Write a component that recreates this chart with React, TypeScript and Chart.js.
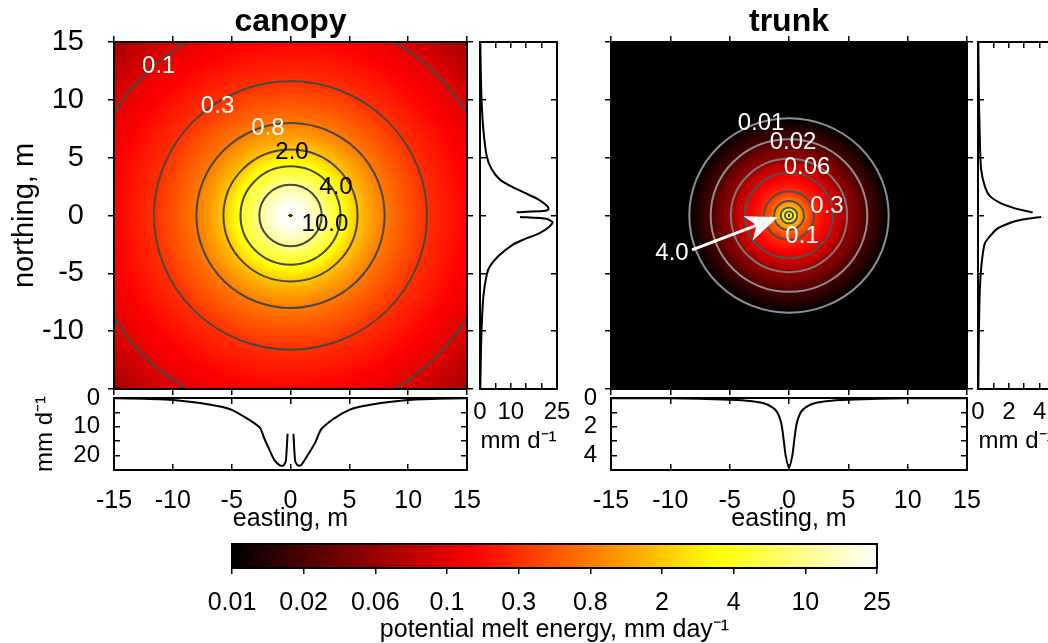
import React, { useEffect, useRef } from 'react';
import { Chart, registerables } from 'chart.js';

Chart.register(...registerables);

const FONT = "'Liberation Sans', Arial, Helvetica, sans-serif";
Chart.defaults.font.family = FONT;
Chart.defaults.color = '#000';

// ---------------- data ----------------
// colour scale (potential melt energy, mm/day)
const colorbarTicks = [0.01, 0.02, 0.06, 0.1, 0.3, 0.8, 2, 4, 10, 25];
const colorbarTickLabels = ['0.01', '0.02', '0.06', '0.1', '0.3', '0.8', '2', '4', '10', '25'];

// radial melt field around the tree (distance from stem, m -> mm/day)
const canopyRadius = [0.17, 0.35, 0.6, 0.9, 1.3, 1.8, 2.2, 2.65, 3.4, 4.25, 5.0, 5.7, 6.8, 8.0, 9.8, 11.6, 14.5, 17.4, 21.3];
const canopyMelt = [16, 22, 23.8, 23, 20.5, 16, 13, 10, 6.2, 4.0, 2.8, 2.0, 1.25, 0.8, 0.48, 0.3, 0.17, 0.1, 0.065];
const trunkRadius = [0.12, 0.34, 0.5, 0.7, 1.0, 1.26, 1.6, 2.1, 2.9, 3.7, 4.9, 6.6, 8.4, 11, 15, 21.3];
const trunkMelt = [4.8, 4.0, 2.9, 2.0, 1.2, 0.8, 0.5, 0.3, 0.17, 0.1, 0.06, 0.02, 0.01, 0.006, 0.004, 0.003];

// east-west transects (bottom panels)
const canopyEasting = [-15, -12.5, -10, -7.7, -6.2, -5, -3.7, -2.6, -2.25, -1.8, -1.4, -0.9, -0.62, -0.4, -0.25, 0, 0.25, 0.4, 0.65, 0.93, 1.5, 2.1, 2.6, 3.7, 5, 6.2, 7.7, 10, 12.5, 15];
const canopyEastMelt = [0.1, 0.3, 0.7, 1.75, 2.8, 4.1, 7.1, 10.3, 13.8, 17.9, 21.4, 23.4, 23.5, 22, 12.4, null, 12.4, 22, 23.5, 23.2, 19.6, 15.5, 10.9, 7.1, 4.1, 2.8, 1.75, 0.7, 0.3, 0.1];
const trunkEasting = [-15, -10, -7.6, -5, -3.3, -2.2, -1.4, -0.98, -0.7, -0.56, -0.42, -0.28, 0, 0.28, 0.42, 0.56, 0.7, 0.98, 1.4, 2.2, 3.3, 5, 7.6, 10, 15];
const trunkEastMelt = [0.01, 0.02, 0.05, 0.12, 0.2, 0.35, 0.65, 1.0, 1.6, 2.2, 3.1, 4.0, 4.85, 4.0, 3.1, 2.2, 1.6, 1.0, 0.65, 0.35, 0.2, 0.12, 0.05, 0.02, 0.01];

// north-south transects (side panels)
const canopyNorthing = [15, 12.5, 10, 7.4, 5.1, 4.0, 3.1, 2.5, 1.95, 1.4, 0.8, 0.52, 0.38, 0.29, 0.1, -0.12, -0.29, -0.58, -0.92, -1.5, -2.1, -2.5, -3.5, -4.4, -5.1, -7, -9.9, -12.5, -15];
const canopyNorthMelt = [0.1, 0.25, 0.5, 1.1, 2.2, 3.8, 6.5, 10.3, 14.6, 18.9, 21.9, 22.2, 20.5, 11.9, null, 13, 21.6, 23.6, 22.7, 19.5, 14, 10.8, 6, 3.2, 2.2, 1.1, 0.5, 0.25, 0.1];
const trunkNorthing = [15, 10, 8.3, 6.0, 4.0, 2.5, 1.67, 1.1, 0.66, 0.37, 0.26, 0.07, -0.12, -0.35, -0.63, -1.2, -2.4, -4.1, -6.1, -10, -15];
const trunkNorthMelt = [0.02, 0.06, 0.09, 0.13, 0.2, 0.45, 0.78, 1.43, 2.3, 3.2, 3.55, null, 4.1, 2.9, 2.1, 1.2, 0.45, 0.24, 0.13, 0.06, 0.02];

// contour label texts
const canopyContourText = ['0.1', '0.3', '0.8', '2.0', '4.0', '10.0'];
const trunkContourText = ['0.01', '0.02', '0.06', '0.3', '0.1', '4.0'];

// ---------------- annotation placement (data coords) ----------------
const canopyNote = {
  at: [[-11.2, 12.9], [-6.2, 9.47], [-1.91, 7.56], [0.13, 5.49], [3.87, 2.46], [2.93, -0.74]],
  colors: ['#fff', '#fff', '#fff', '#000', '#000', '#000'],
  text: canopyContourText,
  lineColor: (_level: number) => '#474747',
  arrow: null as null | number[],
};
const trunkNote = {
  at: [[-2.36, 8.0], [0.34, 6.35], [1.52, 4.19], [3.2, 0.82], [1.1, -1.77], [-9.86, -3.24]],
  colors: ['#fff', '#fff', '#fff', '#fff', '#fff', '#fff'],
  text: trunkContourText,
  lineColor: (level: number) => (level <= 0.02 ? '#8f8f8f' : level <= 0.06 ? '#7a7a7a' : '#505050'),
  arrow: [-8.17, -2.98, -0.93, -0.13] as null | number[],
};

// ---------------- helpers ----------------
function meltAt(radii: number[], melt: number[], r: number): number {
  if (r < radii[0]) return NaN;
  const n = radii.length;
  for (let i = 0; i < n - 1; i++) {
    if (r <= radii[i + 1]) {
      const f = (r - radii[i]) / (radii[i + 1] - radii[i]);
      return Math.exp(Math.log(melt[i]) + f * (Math.log(melt[i + 1]) - Math.log(melt[i])));
    }
  }
  return melt[n - 1];
}

function contourRadius(radii: number[], melt: number[], level: number): number | null {
  for (let i = melt.length - 1; i > 0; i--) {
    const a = melt[i], b = melt[i - 1];
    if (a <= level && b >= level) {
      const f = b === a ? 0 : Math.log(level / a) / Math.log(b / a);
      return radii[i] + (radii[i - 1] - radii[i]) * f;
    }
  }
  return null;
}

function colorPosition(v: number): number {
  const t = colorbarTicks;
  const n = t.length;
  if (v <= t[0]) return 0;
  if (v >= t[n - 1]) return 1;
  for (let i = 0; i < n - 1; i++) {
    if (v <= t[i + 1]) return (i + Math.log(v / t[i]) / Math.log(t[i + 1] / t[i])) / (n - 1);
  }
  return 1;
}

function hot(t: number): number[] {
  const c = (u: number) => Math.max(0, Math.min(1, u));
  return [c(t / 0.375), c((t - 0.375) / 0.375), c((t - 0.75) / 0.25)].map((u) => Math.round(u * 255));
}

const BLACK = '#000';
const frame = { display: true, color: BLACK, width: 2 };
const marks = (length: number) => ({
  display: true,
  drawOnChartArea: false,
  drawTicks: true,
  tickLength: length,
  color: BLACK,
  lineWidth: 1.5,
});
const fixed = (size: number) => (s: any) => {
  if (s.isHorizontal()) s.height = size;
  else s.width = size;
  s.paddingLeft = 0;
  s.paddingRight = 0;
  s.paddingTop = 0;
  s.paddingBottom = 0;
};
const baseOptions = (scales: any) => ({
  responsive: false,
  animation: false,
  devicePixelRatio: 1,
  events: [],
  layout: { padding: 0, autoPadding: false },
  plugins: { legend: { display: false }, tooltip: { enabled: false }, title: { display: false } },
  scales,
});

type Margins = { l: number; t: number; r: number; b: number };

function fieldPlugin(radii: number[], melt: number[], note: typeof canopyNote) {
  return {
    id: 'meltField',
    beforeDraw(chart: any) {
      const { ctx, chartArea: a, scales } = chart;
      const xs = scales.x;
      const ys = scales.y;
      const x0 = Math.round(a.left);
      const y0 = Math.round(a.top);
      const w = Math.round(a.right) - x0;
      const h = Math.round(a.bottom) - y0;
      const off = document.createElement('canvas');
      off.width = w;
      off.height = h;
      const octx = off.getContext('2d') as CanvasRenderingContext2D;
      const img = octx.createImageData(w, h);
      for (let j = 0; j < h; j++) {
        const yv = ys.getValueForPixel(y0 + j + 0.5);
        for (let i = 0; i < w; i++) {
          const xv = xs.getValueForPixel(x0 + i + 0.5);
          const v = meltAt(radii, melt, Math.hypot(xv, yv));
          const c = isNaN(v) ? [45, 45, 45] : hot(colorPosition(v));
          const k = (j * w + i) * 4;
          img.data[k] = c[0];
          img.data[k + 1] = c[1];
          img.data[k + 2] = c[2];
          img.data[k + 3] = 255;
        }
      }
      octx.putImageData(img, 0, 0);
      ctx.drawImage(off, x0, y0);

      ctx.save();
      ctx.beginPath();
      ctx.rect(a.left, a.top, a.right - a.left, a.bottom - a.top);
      ctx.clip();
      const cx = xs.getPixelForValue(0);
      const cy = ys.getPixelForValue(0);
      colorbarTicks.forEach((level) => {
        const r = contourRadius(radii, melt, level);
        if (r == null) return;
        const rx = xs.getPixelForValue(r) - cx;
        const ry = cy - ys.getPixelForValue(r);
        ctx.beginPath();
        ctx.ellipse(cx, cy, rx, ry, 0, 0, Math.PI * 2);
        ctx.strokeStyle = note.lineColor(level);
        ctx.lineWidth = 2;
        ctx.stroke();
      });

      if (note.arrow) {
        const sx = xs.getPixelForValue(note.arrow[0]);
        const sy = ys.getPixelForValue(note.arrow[1]);
        const ex = xs.getPixelForValue(note.arrow[2]);
        const ey = ys.getPixelForValue(note.arrow[3]);
        const L = Math.hypot(ex - sx, ey - sy);
        const ux = (ex - sx) / L;
        const uy = (ey - sy) / L;
        const px = -uy;
        const py = ux;
        const head = 32;
        const half = 13;
        ctx.strokeStyle = '#fff';
        ctx.lineWidth = 3;
        ctx.beginPath();
        ctx.moveTo(sx, sy);
        ctx.lineTo(ex - ux * head * 0.7, ey - uy * head * 0.7);
        ctx.stroke();
        ctx.fillStyle = '#fff';
        ctx.beginPath();
        ctx.moveTo(ex, ey);
        ctx.lineTo(ex - ux * head + px * half, ey - uy * head + py * half);
        ctx.lineTo(ex - ux * head * 0.72, ey - uy * head * 0.72);
        ctx.lineTo(ex - ux * head - px * half, ey - uy * head - py * half);
        ctx.closePath();
        ctx.fill();
      }

      ctx.font = `24px ${FONT}`;
      ctx.textAlign = 'center';
      ctx.textBaseline = 'middle';
      note.text.forEach((t, i) => {
        ctx.fillStyle = note.colors[i];
        ctx.fillText(t, xs.getPixelForValue(note.at[i][0]), ys.getPixelForValue(note.at[i][1]));
      });
      ctx.restore();
    },
  };
}

function fieldChart(title: string, radii: number[], melt: number[], note: typeof canopyNote, left: any, m: Margins) {
  return {
    type: 'scatter',
    data: { datasets: [] },
    options: baseOptions({
      x: { type: 'linear', position: 'bottom', min: -15, max: 15, ticks: { display: false, stepSize: 5 }, grid: marks(6), border: frame, afterFit: fixed(m.b) },
      xTop: {
        type: 'linear', axis: 'x', position: 'top', min: -15, max: 15,
        ticks: { display: false, stepSize: 5 }, grid: marks(6), border: frame,
        title: { display: true, text: title, color: BLACK, font: { size: 32, weight: 'bold' }, padding: { top: 3, bottom: 0 } },
        afterFit: fixed(m.t),
      },
      y: { type: 'linear', position: 'left', min: -15, max: 15, grid: marks(6), border: frame, afterFit: fixed(m.l), ...left },
      yRight: { type: 'linear', axis: 'y', position: 'right', min: -15, max: 15, ticks: { display: false, stepSize: 5 }, grid: marks(6), border: frame, afterFit: fixed(m.r) },
    }),
    plugins: [fieldPlugin(radii, melt, note)],
  };
}

function lineSet(points: { x: number | null; y: number | null }[]) {
  return { data: points, showLine: true, borderColor: BLACK, borderWidth: 2, pointRadius: 0, tension: 0.2, fill: false };
}

function sideChart(northing: number[], melt: (number | null)[], max: number, step: number, labelled: number[], m: Margins) {
  return {
    type: 'scatter',
    data: { datasets: [lineSet(northing.map((n, i) => ({ x: melt[i], y: n })))] },
    options: baseOptions({
      x: {
        type: 'linear', position: 'bottom', min: 0, max,
        ticks: { stepSize: step, font: { size: 24 }, padding: 15, autoSkip: false, maxRotation: 0, callback: (v: number) => (labelled.includes(v) ? String(v) : '') },
        grid: marks(-6), border: frame,
        title: { display: true, text: 'mm d⁻¹', color: BLACK, font: { size: 24 }, padding: { top: 0, bottom: 14 } },
        afterFit: fixed(m.b),
      },
      xTop: { type: 'linear', axis: 'x', position: 'top', min: 0, max, ticks: { display: false, stepSize: step }, grid: marks(-6), border: frame, afterFit: fixed(m.t) },
      y: { type: 'linear', position: 'left', min: -15, max: 15, ticks: { display: false, stepSize: 5 }, grid: marks(-6), border: frame, afterFit: fixed(m.l) },
      yRight: { type: 'linear', axis: 'y', position: 'right', min: -15, max: 15, ticks: { display: false, stepSize: 5 }, grid: marks(-6), border: frame, afterFit: fixed(m.r) },
    }),
  };
}

function bottomChart(easting: number[], melt: (number | null)[], max: number, step: number, labelled: number[], yTitle: string | null, m: Margins) {
  return {
    type: 'scatter',
    data: { datasets: [lineSet(easting.map((e, i) => ({ x: e, y: melt[i] })))] },
    options: baseOptions({
      x: {
        type: 'linear', position: 'bottom', min: -15, max: 15,
        ticks: { stepSize: 5, font: { size: 25 }, padding: 22, autoSkip: false, maxRotation: 0, callback: (v: number) => String(v) },
        grid: marks(-6), border: frame,
        title: { display: true, text: 'easting, m', color: BLACK, font: { size: 25 }, padding: { top: 0, bottom: 6 } },
        afterFit: fixed(m.b),
      },
      xTop: { type: 'linear', axis: 'x', position: 'top', min: -15, max: 15, ticks: { display: false, stepSize: 5 }, grid: marks(-6), border: frame, afterFit: fixed(m.t) },
      y: {
        type: 'linear', position: 'left', min: 0, max, reverse: true,
        ticks: { stepSize: step, font: { size: 24 }, padding: 20, autoSkip: false, callback: (v: number) => (labelled.includes(v) ? String(v) : '') },
        grid: marks(-6), border: frame,
        title: { display: !!yTitle, text: yTitle || '', color: BLACK, font: { size: 24 }, padding: { top: 31, bottom: 0 } },
        afterFit: fixed(m.l),
      },
      yRight: { type: 'linear', axis: 'y', position: 'right', min: 0, max, reverse: true, ticks: { display: false, stepSize: step }, grid: marks(-6), border: frame, afterFit: fixed(m.r) },
    }),
  };
}

const colorbarPlugin = {
  id: 'colorbar',
  beforeDraw(chart: any) {
    const { ctx, chartArea: a, scales } = chart;
    const xs = scales.x;
    const n = colorbarTicks.length - 1;
    for (let px = Math.floor(a.left); px < Math.ceil(a.right); px++) {
      const idx = xs.getValueForPixel(px + 0.5);
      const c = hot(Math.max(0, Math.min(1, idx / n)));
      ctx.fillStyle = `rgb(${c[0]},${c[1]},${c[2]})`;
      ctx.fillRect(px, a.top, 1, a.bottom - a.top);
    }
  },
};

function colorbarChart(m: Margins) {
  return {
    type: 'scatter',
    data: { datasets: [] },
    options: baseOptions({
      x: {
        type: 'linear', position: 'bottom', min: 0, max: colorbarTicks.length - 1,
        ticks: { stepSize: 1, font: { size: 25 }, padding: 14, autoSkip: false, maxRotation: 0, callback: (v: number) => colorbarTickLabels[v] ?? '' },
        grid: marks(6), border: frame,
        title: { display: true, text: 'potential melt energy, mm day⁻¹', color: BLACK, font: { size: 25, lineHeight: 1 }, padding: 0 },
        afterFit: fixed(m.b),
      },
      xTop: { type: 'linear', axis: 'x', position: 'top', min: 0, max: colorbarTicks.length - 1, ticks: { display: false }, grid: { display: false }, border: frame, afterFit: fixed(m.t) },
      y: { type: 'linear', position: 'left', min: 0, max: 1, ticks: { display: false }, grid: { display: false }, border: frame, afterFit: fixed(m.l) },
      yRight: { type: 'linear', axis: 'y', position: 'right', min: 0, max: 1, ticks: { display: false }, grid: { display: false }, border: frame, afterFit: fixed(m.r) },
    }),
    plugins: [colorbarPlugin],
  };
}

const panels = [
  {
    key: 'canopyField', left: 0, top: 0, width: 500, height: 420,
    make: () => fieldChart('canopy', canopyRadius, canopyMelt, canopyNote, {
      ticks: { stepSize: 5, font: { size: 29 }, padding: 24, autoSkip: false, maxRotation: 0, callback: (v: number) => (v === -15 ? '' : String(v)) },
      title: { display: true, text: 'northing, m', color: BLACK, font: { size: 29 }, padding: { top: 8, bottom: 0 } },
    }, { l: 114, t: 42, r: 33, b: 31 }),
  },
  {
    key: 'canopyEast', left: 0, top: 380, width: 500, height: 160,
    make: () => bottomChart(canopyEasting, canopyEastMelt, 25, 5, [0, 10, 20], 'mm d⁻¹', { l: 114, t: 18, r: 33, b: 70 }),
  },
  {
    key: 'canopyNorth', left: 470, top: 0, width: 105, height: 470,
    make: () => sideChart(canopyNorthing, canopyNorthMelt, 25, 5, [0, 10, 25], { l: 10, t: 42, r: 18, b: 81 }),
  },
  {
    key: 'trunkField', left: 500, top: 0, width: 500, height: 420,
    make: () => fieldChart('trunk', trunkRadius, trunkMelt, trunkNote, { ticks: { display: false, stepSize: 5 } }, { l: 111, t: 42, r: 33, b: 31 }),
  },
  {
    key: 'trunkEast', left: 500, top: 380, width: 500, height: 160,
    make: () => bottomChart(trunkEasting, trunkEastMelt, 5, 1, [0, 2, 4], null, { l: 111, t: 18, r: 33, b: 70 }),
  },
  {
    key: 'trunkNorth', left: 968, top: 0, width: 105, height: 470,
    make: () => sideChart(trunkNorthing, trunkNorthMelt, 5, 1, [0, 2, 4], { l: 10, t: 42, r: 18, b: 81 }),
  },
  {
    key: 'colorbar', left: 200, top: 520, width: 720, height: 123,
    make: () => colorbarChart({ l: 32, t: 24, r: 43, b: 75 }),
  },
];

export default function App() {
  const refs = useRef<(HTMLCanvasElement | null)[]>([]);
  useEffect(() => {
    const charts = panels.map((p, i) => new Chart(refs.current[i] as HTMLCanvasElement, p.make() as any));
    return () => charts.forEach((c) => c.destroy());
  }, []);
  return (
    <div style={{ position: 'absolute', left: 0, top: 0, width: 1048, height: 643, overflow: 'hidden', background: '#fff' }}>
      {panels.map((p, i) => (
        <canvas
          key={p.key}
          ref={(el) => {
            refs.current[i] = el;
          }}
          width={p.width}
          height={p.height}
          style={{ position: 'absolute', left: p.left, top: p.top, width: p.width, height: p.height }}
        />
      ))}
    </div>
  );
}
